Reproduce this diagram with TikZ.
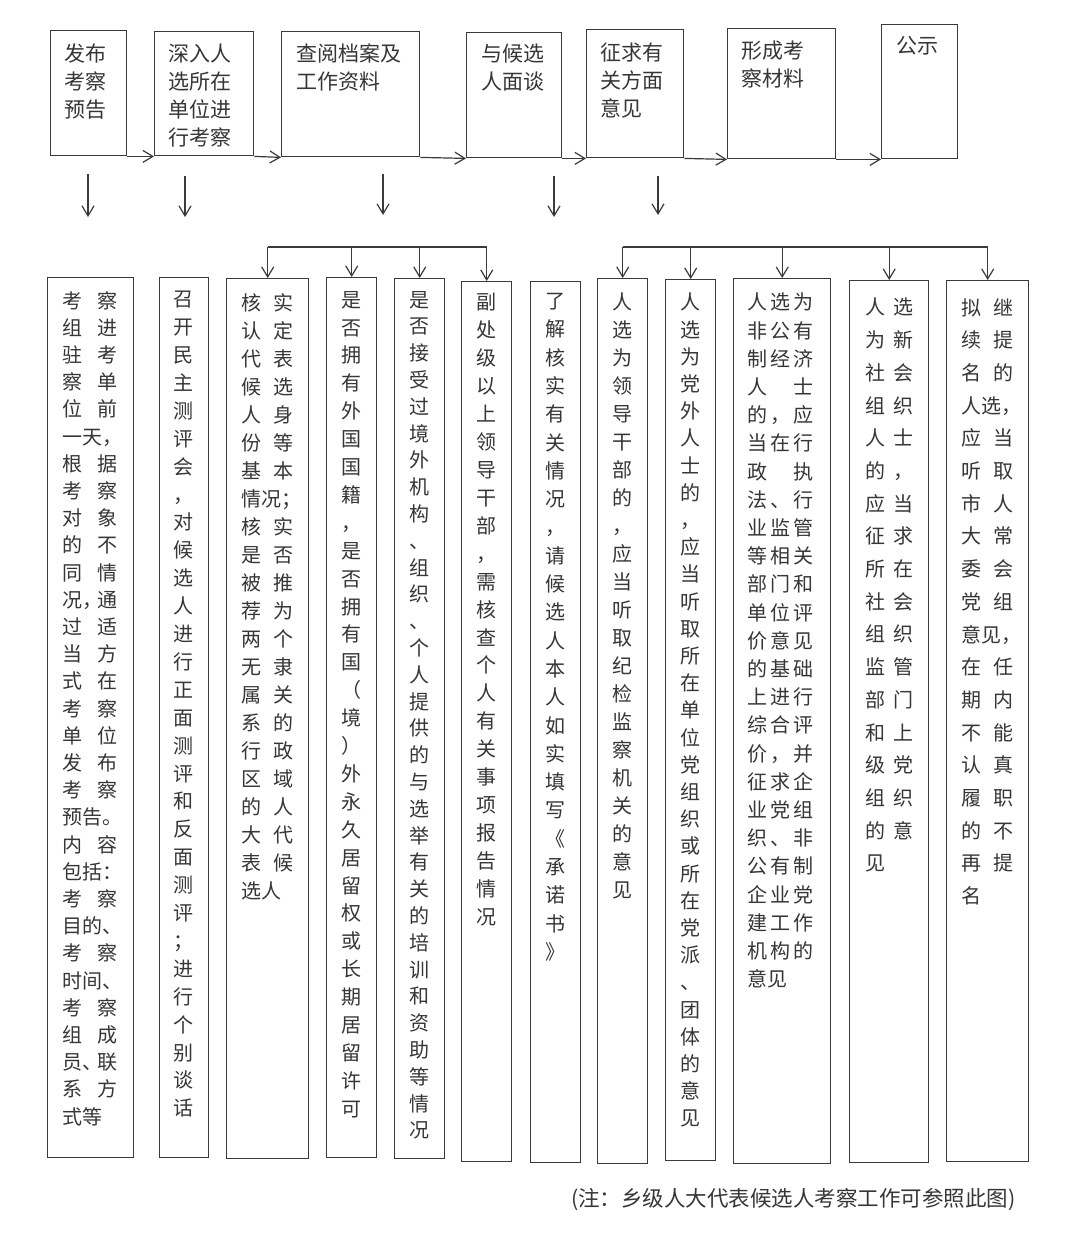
\documentclass[tikz,border=0pt]{standalone}
\usepackage{fontspec}
\setmainfont{Noto Sans CJK SC}
\usetikzlibrary{arrows.meta}
\definecolor{ink}{HTML}{363636}
\definecolor{edge}{HTML}{3A3A3A}
\newcommand\cpair[2]{\makebox[\cw]{#1\hfill#2}}
\newcommand\ctrio[3]{\makebox[\cw]{#1\hfill#2\hfill#3}}
\newcommand\chalf[1]{\makebox[0.5em][l]{#1}}
\def\cw{55pt}
\begin{document}
\begin{tikzpicture}[x=1pt,y=-1pt,
  bx/.style n args={2}{draw=edge, line width=1.4pt, rectangle, anchor=north west,
     inner sep=0pt, minimum width=#1pt, minimum height=#2pt},
  toptext/.style={anchor=north west, inner sep=0pt, align=left, text=ink,
     font=\fontsize{21}{28}\selectfont},
  colleft/.style={anchor=north west, inner sep=0pt, align=left, text=ink,
     font=\fontsize{20}{#1}\selectfont},
  colmid/.style={anchor=north, inner sep=0pt, align=center, text=ink,
     font=\fontsize{20}{#1}\selectfont},
  arr/.style={draw=edge, line width=1.2pt, -{Straight Barb[length=10pt,width=12pt]}},
  plain/.style={draw=edge, line width=1.2pt}]
\fill[white] (0,0) rectangle (1080,1256);
\useasboundingbox (0,0) rectangle (1080,1256);

% ---------- top row ----------
\node[bx={76}{125}] (T1) at (50,30) {};
\node[bx={99}{124}] (T2) at (154,31) {};
\node[bx={138}{125}] (T3) at (281,31) {};
\node[bx={95}{125}] (T4) at (466,32) {};
\node[bx={97}{128}] (T5) at (586,29) {};
\node[bx={108}{130}] (T6) at (727,28) {};
\node[bx={76}{134}] (T7) at (881,24) {};

\node[toptext] (t1) at (64,44) {发布\\考察\\预告};
\node[toptext] (t2) at (168,44) {深入人\\选所在\\单位进\\行考察};
\node[toptext] (t3) at (296,44) {查阅档案及\\工作资料};
\node[toptext] (t4) at (481,44) {与候选\\人面谈};
\node[toptext] (t5) at (600,43) {征求有\\关方面\\意见};
\node[toptext] (t6) at (741,41) {形成考\\察材料};
\node[toptext] (t7) at (896,36) {公示};

\draw[arr] (T1.south east) -- (T2.south west);
\draw[arr] (T2.south east) -- (T3.south west);
\draw[arr] (T3.south east) -- (T4.south west);
\draw[arr] (T4.south east) -- (T5.south west);
\draw[arr] (T5.south east) -- (T6.south west);
\draw[arr] (T6.south east) -- (T7.south west);

% free down arrows
\coordinate (a1s) at (88,174);  \coordinate (a1e) at (88,217);
\coordinate (a2s) at (185,176); \coordinate (a2e) at (185,217);
\coordinate (a3s) at (383,174); \coordinate (a3e) at (383,215);
\coordinate (a4s) at (554,176); \coordinate (a4e) at (554,217);
\coordinate (a5s) at (658,176); \coordinate (a5e) at (658,215);
\draw[arr] (a1s) -- (a1e);
\draw[arr] (a2s) -- (a2e);
\draw[arr] (a3s) -- (a3e);
\draw[arr] (a4s) -- (a4e);
\draw[arr] (a5s) -- (a5e);

% ---------- bottom boxes ----------
\node[bx={86}{880}] (B1) at (47,277) {};
\node[bx={49}{880}] (B2) at (159,277) {};
\node[bx={82}{880}] (B3) at (226,278) {};
\node[bx={50}{880}] (B4) at (326,277) {};
\node[bx={50}{880}] (B5) at (394,278) {};
\node[bx={50}{880}] (B6) at (461,281) {};
\node[bx={50}{881}] (B7) at (530,281) {};
\node[bx={50}{885}] (B8) at (597,278) {};
\node[bx={50}{881}] (B9) at (665,279) {};
\node[bx={97}{885}] (B10) at (733,278) {};
\node[bx={79}{882}] (B11) at (849,280) {};
\node[bx={82}{881}] (B12) at (946,280) {};

% brackets
\coordinate (lbar) at (0,247);
\draw[plain] (B3.north |- lbar) -- (B6.north |- lbar);
\foreach \b in {B3,B4,B5,B6} \draw[arr] (\b.north |- lbar) -- (\b.north);
\draw[plain] (B8.north |- lbar) -- (B12.north |- lbar);
\foreach \b in {B8,B9,B10,B11,B12} \draw[arr] (\b.north |- lbar) -- (\b.north);

% texts
\def\cw{55pt}
\node[colleft=27.2] (x1) at (62,291) {\cpair{考}{察}\\\cpair{组}{进}\\\cpair{驻}{考}\\\cpair{察}{单}\\\cpair{位}{前}\\一天\chalf{，}\\\cpair{根}{据}\\\cpair{考}{察}\\\cpair{对}{象}\\\cpair{的}{不}\\\cpair{同}{情}\\\cpair{况\chalf{，}}{通}\\\cpair{过}{适}\\\cpair{当}{方}\\\cpair{式}{在}\\\cpair{考}{察}\\\cpair{单}{位}\\\cpair{发}{布}\\\cpair{考}{察}\\预告\chalf{。}\\\cpair{内}{容}\\包括\chalf{：}\\\cpair{考}{察}\\目的\chalf{、}\\\cpair{考}{察}\\时间\chalf{、}\\\cpair{考}{察}\\\cpair{组}{成}\\\cpair{员\chalf{、}}{联}\\\cpair{系}{方}\\式等};

\node[colmid=27.9] (x2) at (183.5,291) {召\\开\\民\\主\\测\\评\\会\\，\\对\\候\\选\\人\\进\\行\\正\\面\\测\\评\\和\\反\\面\\测\\评\\；\\进\\行\\个\\别\\谈\\话};

\def\cw{52pt}
\node[colleft=28] (x3) at (241,293) {\cpair{核}{实}\\\cpair{认}{定}\\\cpair{代}{表}\\\cpair{候}{选}\\\cpair{人}{身}\\\cpair{份}{等}\\\cpair{基}{本}\\情况\chalf{；}\\\cpair{核}{实}\\\cpair{是}{否}\\\cpair{被}{推}\\\cpair{荐}{为}\\\cpair{两}{个}\\\cpair{无}{隶}\\\cpair{属}{关}\\\cpair{系}{的}\\\cpair{行}{政}\\\cpair{区}{域}\\\cpair{的}{人}\\\cpair{大}{代}\\\cpair{表}{候}\\选人};

\node[colmid=27.9] (x4) at (351,291) {是\\否\\拥\\有\\外\\国\\国\\籍\\，\\是\\否\\拥\\有\\国\\（\\境\\）\\外\\永\\久\\居\\留\\权\\或\\长\\期\\居\\留\\许\\可};

\node[colmid=26.8] (x5) at (419,291) {是\\否\\接\\受\\过\\境\\外\\机\\构\\、\\组\\织\\、\\个\\人\\提\\供\\的\\与\\选\\举\\有\\关\\的\\培\\训\\和\\资\\助\\等\\情\\况};

\node[colmid=27.95] (x6) at (486,293) {副\\处\\级\\以\\上\\领\\导\\干\\部\\，\\需\\核\\查\\个\\人\\有\\关\\事\\项\\报\\告\\情\\况};

\node[colmid=28.3] (x7) at (555,293) {了\\解\\核\\实\\有\\关\\情\\况\\，\\请\\候\\选\\人\\本\\人\\如\\实\\填\\写\\《\\承\\诺\\书\\》};

\node[colmid=28] (x8) at (622,293) {人\\选\\为\\领\\导\\干\\部\\的\\，\\应\\当\\听\\取\\纪\\检\\监\\察\\机\\关\\的\\意\\见};

\node[colmid=27.2] (x9) at (690,293) {人\\选\\为\\党\\外\\人\\士\\的\\，\\应\\当\\听\\取\\所\\在\\单\\位\\党\\组\\织\\或\\所\\在\\党\\派\\、\\团\\体\\的\\意\\见};

\def\cw{66pt}
\node[colleft=28.2] (x10) at (747,293) {\ctrio{人}{选}{为}\\\ctrio{非}{公}{有}\\\ctrio{制}{经}{济}\\\cpair{人}{士}\\\ctrio{的}{，}{应}\\\ctrio{当}{在}{行}\\\cpair{政}{执}\\\ctrio{法}{、}{行}\\\ctrio{业}{监}{管}\\\ctrio{等}{相}{关}\\\ctrio{部}{门}{和}\\\ctrio{单}{位}{评}\\\ctrio{价}{意}{见}\\\ctrio{的}{基}{础}\\\ctrio{上}{进}{行}\\\ctrio{综}{合}{评}\\\ctrio{价}{，}{并}\\\ctrio{征}{求}{企}\\\ctrio{业}{党}{组}\\\ctrio{织}{、}{非}\\\ctrio{公}{有}{制}\\\ctrio{企}{业}{党}\\\ctrio{建}{工}{作}\\\ctrio{机}{构}{的}\\意见};

\def\cw{48pt}
\node[colleft=32.7] (x11) at (865,298) {\cpair{人}{选}\\\cpair{为}{新}\\\cpair{社}{会}\\\cpair{组}{织}\\\cpair{人}{士}\\\cpair{的}{，}\\\cpair{应}{当}\\\cpair{征}{求}\\\cpair{所}{在}\\\cpair{社}{会}\\\cpair{组}{织}\\\cpair{监}{管}\\\cpair{部}{门}\\\cpair{和}{上}\\\cpair{级}{党}\\\cpair{组}{织}\\\cpair{的}{意}\\见};

\def\cw{52pt}
\node[colleft=32.7] (x12) at (961,298) {\cpair{拟}{继}\\\cpair{续}{提}\\\cpair{名}{的}\\人选\chalf{，}\\\cpair{应}{当}\\\cpair{听}{取}\\\cpair{市}{人}\\\cpair{大}{常}\\\cpair{委}{会}\\\cpair{党}{组}\\意见\chalf{，}\\\cpair{在}{任}\\\cpair{期}{内}\\\cpair{不}{能}\\\cpair{认}{真}\\\cpair{履}{职}\\\cpair{的}{不}\\\cpair{再}{提}\\名};

% footnote
\node[anchor=west, inner sep=0pt, text=ink, font=\fontsize{21.5}{25}\selectfont] (note) at (571,1200) {(注：乡级人大代表候选人考察工作可参照此图)};
\end{tikzpicture}
\end{document}
